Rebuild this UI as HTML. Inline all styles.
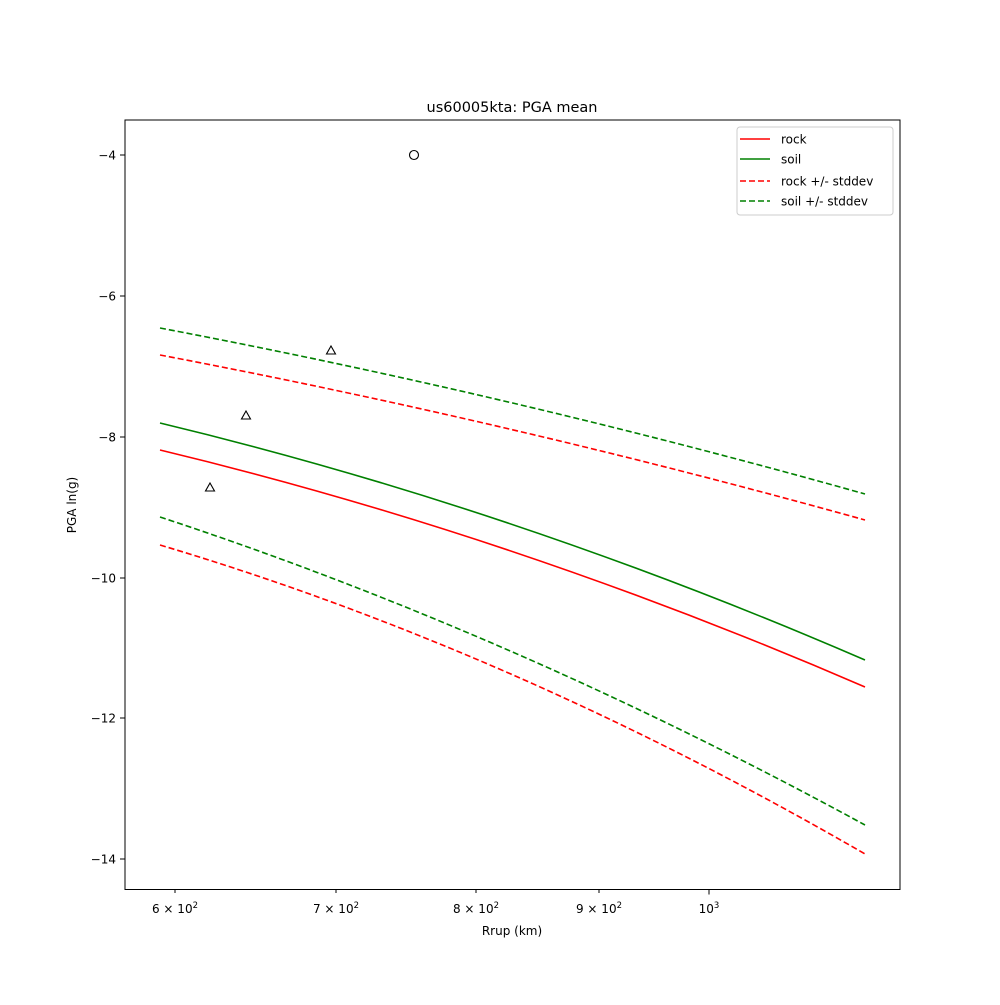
<!DOCTYPE html>
<html><head><meta charset="utf-8"><style>
body{margin:0;background:#fff}
svg{font-family:"DejaVu Sans","Liberation Sans",sans-serif}
</style></head><body>
<svg width="1000" height="1000" xmlns="http://www.w3.org/2000/svg">
<rect width="1000" height="1000" fill="#fff"/>
<text x="512" y="112" font-size="14.5" text-anchor="middle">us60005kta: PGA mean</text>
<g fill="none" stroke-width="1.6">
<path d="M160,450 Q512.5,534.6 865,687" stroke="#ff0000"/>
<path d="M160,423 Q512.5,507.6 865,660" stroke="#008000"/>
<path d="M160,355 Q512.5,422 865,520" stroke="#ff0000" stroke-dasharray="6,3"/>
<path d="M160,545 Q512.5,650 865,854" stroke="#ff0000" stroke-dasharray="6,3"/>
<path d="M160,328 Q512.5,395 865,494" stroke="#008000" stroke-dasharray="6,3"/>
<path d="M160,517 Q512.5,633 865,825" stroke="#008000" stroke-dasharray="6,3"/>
</g>
<g fill="none" stroke="#000" stroke-width="1.1">
<circle cx="414" cy="155" r="4.5"/>
<path d="M331,346 L335.5,354 L326.5,354 Z"/>
<path d="M246,411 L250.5,419 L241.5,419 Z"/>
<path d="M210,483 L214.5,491 L205.5,491 Z"/>
</g>
<rect x="125" y="120" width="775" height="769.5" fill="none" stroke="#000" stroke-width="1"/>
<g stroke="#000" stroke-width="1">
<line x1="175" y1="889.5" x2="175" y2="893"/>
<line x1="336" y1="889.5" x2="336" y2="893"/>
<line x1="476" y1="889.5" x2="476" y2="893"/>
<line x1="599" y1="889.5" x2="599" y2="893"/>
<line x1="709" y1="889.5" x2="709" y2="894.5"/>
<line x1="120" y1="155" x2="125" y2="155"/>
<line x1="120" y1="296" x2="125" y2="296"/>
<line x1="120" y1="437" x2="125" y2="437"/>
<line x1="120" y1="578" x2="125" y2="578"/>
<line x1="120" y1="718" x2="125" y2="718"/>
<line x1="120" y1="859" x2="125" y2="859"/>
</g>
<g font-size="12" text-anchor="middle">
<text x="175" y="913">6 × 10<tspan dy="-5" font-size="8.5">2</tspan></text>
<text x="336" y="913">7 × 10<tspan dy="-5" font-size="8.5">2</tspan></text>
<text x="476" y="913">8 × 10<tspan dy="-5" font-size="8.5">2</tspan></text>
<text x="599" y="913">9 × 10<tspan dy="-5" font-size="8.5">2</tspan></text>
<text x="709" y="913">10<tspan dy="-5" font-size="8.5">3</tspan></text>
<text x="512" y="935">Rrup (km)</text>
</g>
<g font-size="12" text-anchor="end">
<text x="116" y="159.5">−4</text>
<text x="116" y="300.5">−6</text>
<text x="116" y="441.5">−8</text>
<text x="116" y="582.5">−10</text>
<text x="116" y="722.5">−12</text>
<text x="116" y="863.5">−14</text>
</g>
<text transform="translate(76,505) rotate(-90)" font-size="12" text-anchor="middle">PGA ln(g)</text>
<rect x="737" y="127" width="156" height="88" rx="3" fill="#fff" stroke="#ccc"/>
<g stroke-width="1.6">
<line x1="740" y1="139" x2="770" y2="139" stroke="#ff0000"/>
<line x1="740" y1="159" x2="770" y2="159" stroke="#008000"/>
<line x1="740" y1="181" x2="770" y2="181" stroke="#ff0000" stroke-dasharray="6,3"/>
<line x1="740" y1="201" x2="770" y2="201" stroke="#008000" stroke-dasharray="6,3"/>
</g>
<g font-size="12">
<text x="781" y="143.5">rock</text>
<text x="781" y="163.5">soil</text>
<text x="781" y="185.5">rock +/- stddev</text>
<text x="781" y="205.5">soil +/- stddev</text>
</g>
</svg>
</body></html>
